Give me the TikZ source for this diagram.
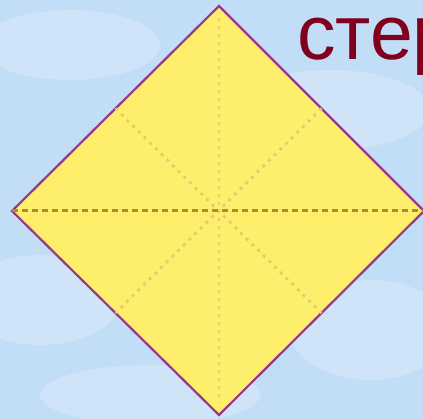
\documentclass[tikz,border=0pt]{standalone}
\usepackage{fontspec}
\setmainfont{Liberation Sans}
\usetikzlibrary{positioning,calc}
\definecolor{SkyBlue}{HTML}{C2DDF6}
\definecolor{CloudWhite}{HTML}{E8F2FC}
\definecolor{PaperYellow}{HTML}{FDEE6C}
\definecolor{EdgePurple}{HTML}{983888}
\definecolor{FoldDark}{HTML}{AD8C2A}
\definecolor{FoldLight}{HTML}{E2CC72}
\definecolor{TitleRed}{HTML}{80001E}

\begin{document}
\begin{tikzpicture}[
  x=1pt, y=-1pt,
  paper/.style={fill=PaperYellow, draw=EdgePurple, line width=2.2pt, line join=miter},
  mainfold/.style={draw=FoldDark, line width=3pt, dash pattern=on 6pt off 4pt},
  sidefold/.style={draw=FoldLight, line width=2.8pt, dash pattern=on 3pt off 5pt},
  cloud/.style={fill=CloudWhite, opacity=0.35},
  title/.style={font=\fontsize{77}{77}\selectfont, text=TitleRed, anchor=base west, inner sep=0pt},
]

% ---------- Background ----------
\useasboundingbox (0,0) rectangle (423,419);
\clip (0,0) rectangle (423,419);
\fill[SkyBlue] (0,0) rectangle (423,419);
\fill[cloud] (70,45) ellipse (90 and 35);
\fill[cloud] (330,110) ellipse (100 and 40);
\fill[cloud] (40,300) ellipse (80 and 45);
\fill[cloud] (370,330) ellipse (80 and 50);
\fill[cloud] (150,395) ellipse (110 and 30);

% ---------- Square paper ----------
\coordinate (top)    at (219,6);
\coordinate (left)   at (12,211);
\coordinate (right)  at (424,211);
\coordinate (bottom) at (219,415);
\coordinate (mid)    at (219,211);

\draw[paper] (top) -- (right) -- (bottom) -- (left) -- cycle;

% ---------- Fold lines ----------
\draw[sidefold] ($(top)!0.03!(bottom)$) -- ($(bottom)!0.03!(top)$);
\draw[sidefold] ($(top)!0.5!(left)$) -- ($(bottom)!0.5!(right)$);
\draw[sidefold] ($(top)!0.5!(right)$) -- ($(bottom)!0.5!(left)$);
\draw[mainfold] (left) -- (right);

% ---------- Title ----------
\node[title] (word) at (297,60) {стер};

\end{tikzpicture}
\end{document}
